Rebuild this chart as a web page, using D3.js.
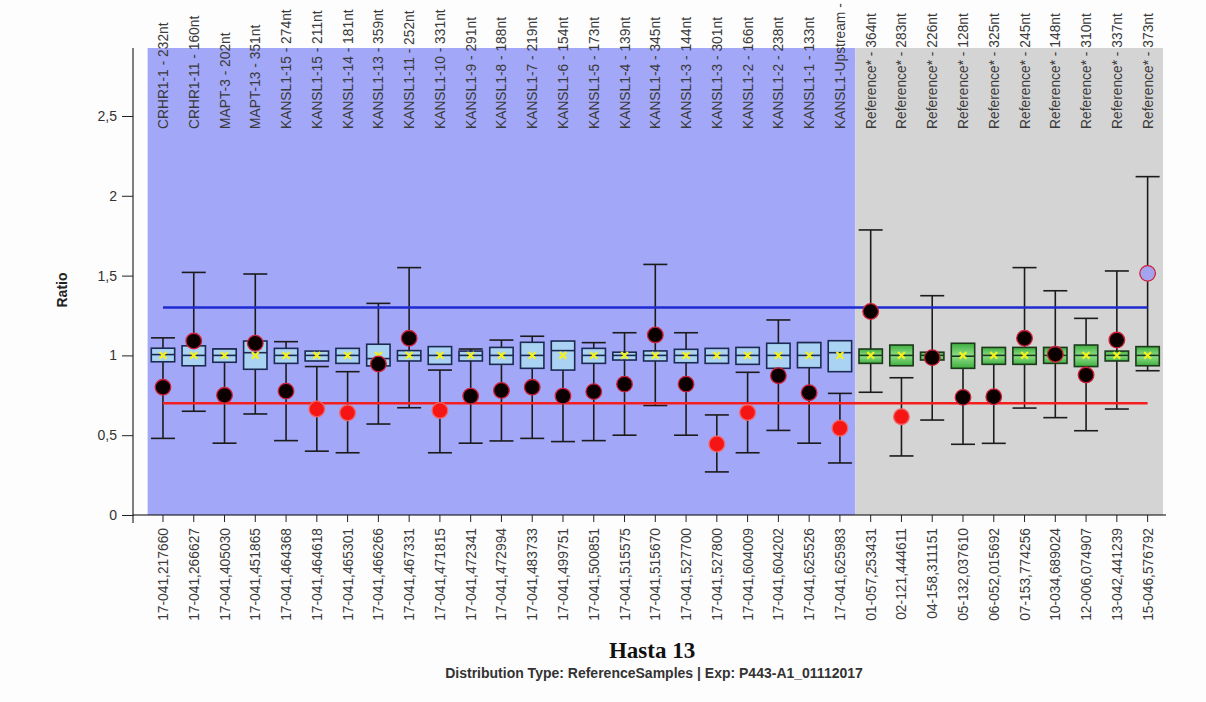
<!DOCTYPE html>
<html>
<head>
<meta charset="utf-8">
<script src="https://cdn.jsdelivr.net/npm/d3@7/dist/d3.min.js"></script>
<style>
  body { margin: 0; background: #fdfdfd; }
  svg { display: block; font-family: "Liberation Sans", Arial, sans-serif; }
  .tick-lbl { font-size: 13.8px; fill: #3a3a3a; }
</style>
</head>
<body>
<svg id="chart"></svg>
<script>
// probe names (top) and positions (bottom)
var probes = ["CRHR1-1 - 232nt", "CRHR1-11 - 160nt", "MAPT-3 - 202nt", "MAPT-13 - 351nt",
  "KANSL1-15 - 274nt", "KANSL1-15 - 211nt", "KANSL1-14 - 181nt", "KANSL1-13 - 359nt",
  "KANSL1-11 - 252nt", "KANSL1-10 - 331nt", "KANSL1-9 - 291nt", "KANSL1-8 - 188nt",
  "KANSL1-7 - 219nt", "KANSL1-6 - 154nt", "KANSL1-5 - 173nt", "KANSL1-4 - 139nt",
  "KANSL1-4 - 345nt", "KANSL1-3 - 144nt", "KANSL1-3 - 301nt", "KANSL1-2 - 166nt",
  "KANSL1-2 - 238nt", "KANSL1-1 - 133nt", "KANSL1-Upstream -",
  "Reference* - 364nt", "Reference* - 283nt", "Reference* - 226nt", "Reference* - 128nt",
  "Reference* - 325nt", "Reference* - 245nt", "Reference* - 148nt", "Reference* - 310nt",
  "Reference* - 337nt", "Reference* - 373nt"];

var positions = ["17-041,217660", "17-041,266627", "17-041,405030", "17-041,451865",
  "17-041,464368", "17-041,464618", "17-041,465301", "17-041,466266", "17-041,467331",
  "17-041,471815", "17-041,472341", "17-041,472994", "17-041,483733", "17-041,499751",
  "17-041,500851", "17-041,515575", "17-041,515670", "17-041,527700", "17-041,527800",
  "17-041,604009", "17-041,604202", "17-041,625526", "17-041,625983",
  "01-057,253431", "02-121,444611", "04-158,311151", "05-132,037610", "06-052,015692",
  "07-153,774256", "10-034,689024", "12-006,074907", "13-042,441239", "15-046,576792"];

var nTarget = 23; // first 23 are target probes, rest reference probes

// reference box: q1, median, q3 ; mean always ~1
var boxQ1 = [0.96, 0.935, 0.957, 0.913, 0.95, 0.965, 0.95, 0.934, 0.965, 0.944, 0.965,
  0.944, 0.919, 0.908, 0.95, 0.971, 0.965, 0.954, 0.95, 0.944, 0.919, 0.923, 0.898,
  0.95, 0.935, 0.971, 0.919, 0.944, 0.944, 0.95, 0.93, 0.965, 0.935];
var boxMed = [1.005, 1.0, 1.0, 1.017, 1.0, 1.0, 1.0, 0.98, 1.0, 1.0, 1.0,
  1.0, 1.0, 1.03, 1.0, 1.0, 1.0, 1.0, 1.0, 1.0, 1.0, 1.0, 1.017,
  1.0, 1.0, 1.0, 0.995, 1.0, 1.0, 1.0, 1.0, 1.0, 1.0];
var boxQ3 = [1.045, 1.06, 1.04, 1.09, 1.044, 1.027, 1.044, 1.07, 1.03, 1.055, 1.027,
  1.05, 1.082, 1.09, 1.044, 1.02, 1.028, 1.038, 1.044, 1.05, 1.076, 1.08, 1.092,
  1.04, 1.065, 1.02, 1.076, 1.05, 1.05, 1.05, 1.065, 1.027, 1.055];
var means = [1, 1, 1, 1, 1, 1, 1, 1, 1, 1, 1, 1, 1, 1, 1, 1, 1, 1, 1, 1, 1, 1, 1,
  1, 1, 1, 1, 1, 1, 1, 1, 1, 1];

// sample ratio with its confidence interval
var ratio = [0.80, 1.09, 0.75, 1.076, 0.776, 0.664, 0.64, 0.946, 1.107, 0.655, 0.745,
  0.78, 0.80, 0.745, 0.773, 0.82, 1.128, 0.82, 0.445, 0.642, 0.873, 0.766, 0.544,
  1.275, 0.616, 0.986, 0.737, 0.741, 1.107, 1.007, 0.877, 1.096, 1.514];
var ciLow = [0.48, 0.65, 0.45, 0.633, 0.466, 0.40, 0.39, 0.57, 0.672, 0.39, 0.45,
  0.464, 0.48, 0.46, 0.466, 0.50, 0.686, 0.50, 0.27, 0.39, 0.53, 0.45, 0.326,
  0.769, 0.37, 0.595, 0.443, 0.449, 0.67, 0.61, 0.528, 0.664, 0.904];
var ciHigh = [1.11, 1.52, 1.04, 1.51, 1.086, 0.93, 0.898, 1.326, 1.55, 0.908, 1.04,
  1.096, 1.12, 1.03, 1.08, 1.142, 1.57, 1.142, 0.627, 0.894, 1.222, 1.08, 0.762,
  1.786, 0.86, 1.374, 1.03, 1.033, 1.55, 1.405, 1.232, 1.529, 2.12];

var upperLimit = 1.3, lowerLimit = 0.7;
var yTicks = [0, 0.5, 1, 1.5, 2, 2.5];

var W = 1206, H = 702;
var margin = {top: 48, right: 43, bottom: 187, left: 147.6};

var svg = d3.select("#chart").attr("width", W).attr("height", H);

var x = d3.scaleBand().domain(positions)
    .range([margin.left, W - margin.right]).padding(0);
var y = d3.scaleLinear().domain([0, 2.926]).range([H - margin.bottom, margin.top]);

var bw = x.bandwidth();
var cx = function(i) { return x(positions[i]) + bw / 2; };

var rows = positions.map(function(p, i) {
  return {i: i, pos: p, probe: probes[i], q1: boxQ1[i], med: boxMed[i], q3: boxQ3[i],
    mean: means[i], r: ratio[i], lo: ciLow[i], hi: ciHigh[i], ref: i >= nTarget};
});

// green gradient for reference probes
var defs = svg.append("defs");
var grad = defs.append("linearGradient").attr("id", "gGreen")
    .attr("x1", 0).attr("y1", 0).attr("x2", 0).attr("y2", 1);
grad.append("stop").attr("offset", "0%").attr("stop-color", "#3fae3f");
grad.append("stop").attr("offset", "50%").attr("stop-color", "#8fe08a");
grad.append("stop").attr("offset", "100%").attr("stop-color", "#3fae3f");

// backgrounds
svg.append("rect")
    .attr("x", margin.left).attr("y", margin.top)
    .attr("width", x(positions[nTarget]) - margin.left)
    .attr("height", y(0) - margin.top)
    .attr("fill", "#a3a7f7");
svg.append("rect")
    .attr("x", x(positions[nTarget])).attr("y", margin.top)
    .attr("width", W - margin.right - x(positions[nTarget]))
    .attr("height", y(0) - margin.top)
    .attr("fill", "#d4d4d4");

// top probe labels
svg.append("g").selectAll("text")
    .data(rows).enter().append("text")
    .attr("class", "tick-lbl")
    .attr("transform", function(d) { return "translate(" + (cx(d.i) + 5) + ",129) rotate(-90)"; })
    .style("text-anchor", "start")
    .text(function(d) { return d.probe; });

// y axis
var yAxis = svg.append("g")
    .attr("transform", "translate(133,0)")
    .call(d3.axisLeft(y).tickValues(yTicks).tickSize(11).tickPadding(5)
      .tickFormat(function(d) { return String(d).replace(".", ","); }));
yAxis.select(".domain").attr("d", "M0," + margin.top + "V" + (y(0) + 8));
yAxis.selectAll("line").attr("stroke", "#222");
yAxis.selectAll("text").style("font-size", "14px").attr("fill", "#333")
    .style("font-family", "Liberation Sans, Arial, sans-serif");

svg.append("text")
    .attr("transform", "translate(67,290) rotate(-90)")
    .style("text-anchor", "middle")
    .style("font-size", "14px").style("font-weight", "bold").attr("fill", "#222")
    .text("Ratio");

// x axis
var xAxis = svg.append("g")
    .attr("transform", "translate(0," + y(0) + ")")
    .call(d3.axisBottom(x).tickSize(7).tickFormat(""));
xAxis.select(".domain").attr("d", "M133,0H" + (W - margin.right + 3));
xAxis.selectAll("line").attr("stroke", "#222");

svg.append("g").selectAll("text")
    .data(rows).enter().append("text")
    .attr("class", "tick-lbl")
    .attr("transform", function(d) { return "translate(" + (cx(d.i) + 5) + "," + (y(0) + 13) + ") rotate(-90)"; })
    .style("text-anchor", "end")
    .text(function(d) { return d.pos; });

// confidence whiskers
var capW = bw * 0.78;
var wk = svg.append("g").attr("stroke", "#1b1b1b").attr("stroke-width", 1.6);
rows.forEach(function(d) {
  var c = cx(d.i);
  wk.append("line").attr("x1", c).attr("x2", c).attr("y1", y(d.lo)).attr("y2", y(d.hi));
  wk.append("line").attr("x1", c - capW / 2).attr("x2", c + capW / 2).attr("y1", y(d.lo)).attr("y2", y(d.lo));
  wk.append("line").attr("x1", c - capW / 2).attr("x2", c + capW / 2).attr("y1", y(d.hi)).attr("y2", y(d.hi));
});

// boxes
var boxW = bw * 0.76;
var bx = svg.append("g");
bx.selectAll("rect").data(rows).enter().append("rect")
    .attr("x", function(d) { return cx(d.i) - boxW / 2; })
    .attr("y", function(d) { return y(d.q3); })
    .attr("width", boxW)
    .attr("height", function(d) { return y(d.q1) - y(d.q3); })
    .attr("fill", function(d) { return d.ref ? "url(#gGreen)" : "#a9d2f3"; })
    .attr("stroke", function(d) { return d.ref ? "#1d3a1d" : "#1c2a52"; })
    .attr("stroke-width", 1.6);
bx.selectAll("line").data(rows).enter().append("line")
    .attr("x1", function(d) { return cx(d.i) - boxW / 2; })
    .attr("x2", function(d) { return cx(d.i) + boxW / 2; })
    .attr("y1", function(d) { return y(d.med); })
    .attr("y2", function(d) { return y(d.med); })
    .attr("stroke", function(d) { return d.ref ? "#1d3a1d" : "#1c2a52"; })
    .attr("stroke-width", 1.6);

// mean markers
var mk = svg.append("g").attr("stroke", "#f4f21a").attr("stroke-width", 2.2);
rows.forEach(function(d) {
  var c = cx(d.i), m = y(d.mean), s = 3.4;
  mk.append("line").attr("x1", c - s).attr("x2", c + s).attr("y1", m - s).attr("y2", m + s);
  mk.append("line").attr("x1", c - s).attr("x2", c + s).attr("y1", m + s).attr("y2", m - s);
});

// limit lines
var xFirst = cx(0), xLast = cx(positions.length - 1);
svg.append("line").attr("x1", xFirst).attr("x2", xLast)
    .attr("y1", y(upperLimit)).attr("y2", y(upperLimit))
    .attr("stroke", "#1f2bd0").attr("stroke-width", 2.4);
svg.append("line").attr("x1", xFirst).attr("x2", xLast)
    .attr("y1", y(lowerLimit)).attr("y2", y(lowerLimit))
    .attr("stroke", "#f51e1e").attr("stroke-width", 2.4);

// sample ratio dots
svg.append("g").selectAll("circle").data(rows).enter().append("circle")
    .attr("cx", function(d) { return cx(d.i); })
    .attr("cy", function(d) { return y(d.r); })
    .attr("r", 7.8)
    .attr("fill", function(d) {
      if (d.r < lowerLimit) return "#f51515";
      if (d.r > upperLimit) return "#a3a3ee";
      return "#0a0000";
    })
    .attr("stroke", function(d) { return d.r < lowerLimit ? "#f56060" : "#d0203a"; })
    .attr("stroke-width", 1.3);

// titles
svg.append("text")
    .attr("x", 652).attr("y", 658)
    .style("text-anchor", "middle")
    .style("font-family", "Liberation Serif, Times New Roman, serif")
    .style("font-size", "23px").style("font-weight", "bold").attr("fill", "#111")
    .text("Hasta 13");
svg.append("text")
    .attr("x", 654).attr("y", 678)
    .style("text-anchor", "middle")
    .style("font-size", "14px").style("font-weight", "bold").attr("fill", "#333")
    .text("Distribution Type: ReferenceSamples | Exp: P443-A1_01112017");
</script>
</body>
</html>
